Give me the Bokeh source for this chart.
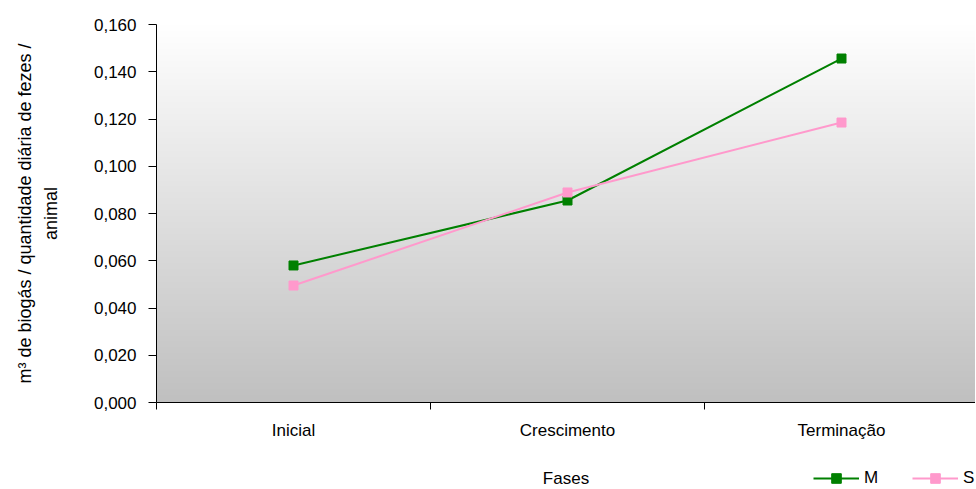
import numpy as np
from bokeh.plotting import figure
from bokeh.layouts import column
from bokeh.models import (Range1d, FixedTicker, CustomJSTickFormatter, Legend, LegendItem, Label)
from bokeh.embed import file_html
from bokeh.resources import INLINE

# ---- data ----
categories = ["Inicial", "Crescimento", "Terminação"]
series_M = [0.058, 0.0855, 0.1456]
series_S = [0.0495, 0.0889, 0.1185]
y_ticks = [0.0, 0.02, 0.04, 0.06, 0.08, 0.10, 0.12, 0.14, 0.16]
y_label = "m³ de biogás / quantidade diária de fezes /\nanimal"
x_title = "Fases"
series_names = ["M", "S"]

FONT = "Liberation Sans"
FS = "17px"
GREEN = "#008000"
PINK = "#FF99CC"

x_pos = [i + 0.5 for i in range(len(categories))]
x_max = 819 / 274.0
xr = Range1d(0, x_max)

p = figure(width=975, height=444, output_backend="svg", toolbar_location=None,
           x_range=xr, y_range=Range1d(0, 0.16),
           min_border_left=156, min_border_right=0, min_border_top=24, min_border_bottom=42)
p.outline_line_color = None
p.background_fill_color = "white"
p.border_fill_color = "white"
p.xgrid.grid_line_color = None
p.ygrid.grid_line_color = None

# gradient background of the plot area
n = 256
g = np.linspace(192, 255, n).astype(np.uint32)
img = np.empty((n, 1), dtype=np.uint32)
view = img.view(dtype=np.uint8).reshape((n, 1, 4))
view[:, 0, 0] = g
view[:, 0, 1] = g
view[:, 0, 2] = g
view[:, 0, 3] = 255
p.image_rgba(image=[img], x=0, y=0, dw=x_max, dh=0.16)

# series
p.line(x_pos, series_M, line_color=GREEN, line_width=2)
p.scatter(x_pos, series_M, marker="square", size=9, fill_color=GREEN, line_color=GREEN)
p.line(x_pos, series_S, line_color=PINK, line_width=2)
p.scatter(x_pos, series_S, marker="square", size=9, fill_color=PINK, line_color=PINK)

# x axis
xa = p.xaxis[0]
xa.ticker = FixedTicker(ticks=x_pos, minor_ticks=[float(i) for i in range(len(categories) + 1)])
xa.major_label_overrides = {x: c for x, c in zip(x_pos, categories)}
xa.major_tick_in = 0
xa.major_tick_out = 0
xa.minor_tick_in = 0
xa.minor_tick_out = 7
xa.minor_tick_line_color = "black"
xa.axis_line_color = "black"
xa.major_label_standoff = 11
xa.major_label_text_font = FONT
xa.major_label_text_font_size = FS
xa.major_label_text_color = "black"

# y axis
ya = p.yaxis[0]
ya.ticker = FixedTicker(ticks=y_ticks, minor_ticks=[])
ya.formatter = CustomJSTickFormatter(code="return tick.toFixed(3).replace('.', ',');")
ya.major_tick_in = 0
ya.major_tick_out = 8
ya.major_label_standoff = 12
ya.axis_line_color = "black"
ya.major_tick_line_color = "black"
ya.major_label_text_font = FONT
ya.major_label_text_font_size = FS
ya.major_label_text_color = "black"
ya.axis_label = y_label
ya.axis_label_text_font = FONT
ya.axis_label_text_font_size = "18px"
ya.axis_label_text_font_style = "normal"
ya.axis_label_text_color = "black"
ya.axis_label_text_line_height = 1.3
ya.axis_label_standoff = 30

# ---- strip below: axis title + legend ----
q = figure(width=975, height=44, output_backend="svg", toolbar_location=None,
           x_range=xr, y_range=Range1d(0, 44),
           min_border_left=156, min_border_right=0, min_border_top=0, min_border_bottom=0)
q.axis.visible = False
q.grid.visible = False
q.outline_line_color = None
q.background_fill_color = "white"
q.border_fill_color = "white"

# legend-only renderers (no visible points)
nan = [np.nan]
lm = q.line(nan, nan, line_color=GREEN, line_width=2)
sm = q.scatter(nan, nan, marker="square", size=9, fill_color=GREEN, line_color=GREEN)
ls = q.line(nan, nan, line_color=PINK, line_width=2)
ss = q.scatter(nan, nan, marker="square", size=9, fill_color=PINK, line_color=PINK)

q.add_layout(Label(x=x_max / 2, y=10, text=x_title, text_font=FONT, text_font_size=FS,
                   text_align="center", text_baseline="middle", text_color="black"))

legend = Legend(items=[LegendItem(label=series_names[0], renderers=[lm, sm]),
                       LegendItem(label=series_names[1], renderers=[ls, ss])],
                location=(657, -2), orientation="horizontal",
                glyph_width=46, glyph_height=24, label_height=14, label_width=20,
                label_standoff=5, spacing=28, padding=0, margin=0,
                background_fill_alpha=0, border_line_color=None,
                label_text_font=FONT, label_text_font_size=FS, label_text_color="black")
q.add_layout(legend, "center")

layout = column(p, q, spacing=0)
open("out.html", "w").write(file_html(layout, INLINE))
